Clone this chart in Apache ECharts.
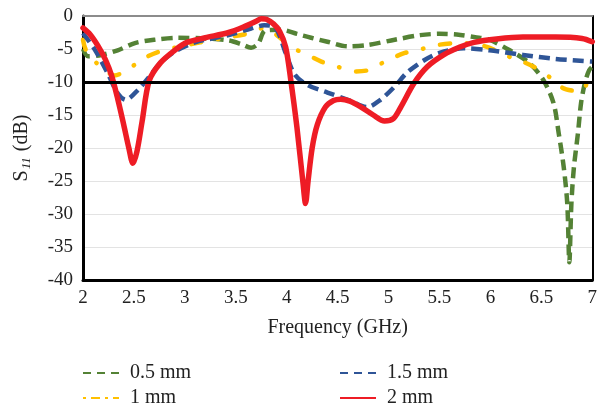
<!DOCTYPE html>
<html>
<head>
<meta charset="utf-8">
<script src="https://cdn.jsdelivr.net/npm/echarts@6/dist/echarts.min.js"></script>
<style>
  html, body { margin: 0; padding: 0; background: #fff; }
  #chart { width: 600px; height: 411px; }
</style>
</head>
<body>
<div id="chart"></div>
<script>
// Reflection coefficient S11 (dB) versus frequency (GHz) for four thicknesses.
const seriesNames = ['0.5 mm', '1 mm', '1.5 mm', '2 mm'];

const freq05 = [2.0, 2.05, 2.18, 2.34, 2.51, 2.7, 2.93, 3.2, 3.43, 3.56, 3.65, 3.72, 3.79, 3.95, 4.1, 4.24, 4.4, 4.6, 4.79, 5.06, 5.31, 5.5, 5.67, 5.85, 5.99, 6.19, 6.38, 6.52, 6.62, 6.67, 6.72, 6.755, 6.775, 6.795, 6.82, 6.86, 6.89, 6.93, 6.97, 7.0];
const s11_05 = [-5.0, -6.1, -5.9, -5.2, -4.1, -3.6, -3.3, -3.4, -3.7, -4.3, -4.8, -4.2, -2.2, -2.1, -2.7, -3.3, -3.9, -4.6, -4.4, -3.6, -2.9, -2.7, -2.8, -3.2, -3.6, -5.2, -7.1, -9.7, -13.2, -17.7, -22.9, -28.5, -37.3, -28.5, -22.9, -17.7, -13.2, -10.0, -8.2, -7.7];

const freq10 = [2.0, 2.03, 2.15, 2.24, 2.31, 2.42, 2.6, 2.75, 2.93, 3.15, 3.43, 3.58, 3.72, 3.78, 3.86, 3.95, 4.04, 4.18, 4.34, 4.5, 4.68, 4.8, 4.99, 5.16, 5.28, 5.48, 5.7, 5.95, 6.19, 6.3, 6.45, 6.62, 6.71, 6.8, 6.89, 6.95, 7.0];
const s11_10 = [-3.6, -5.2, -7.4, -8.5, -9.0, -8.3, -6.4, -5.4, -4.7, -4.0, -3.2, -2.8, -2.0, -1.8, -2.4, -3.5, -4.7, -5.7, -6.9, -7.7, -8.4, -8.2, -6.7, -5.6, -5.2, -4.4, -4.1, -4.6, -6.2, -6.8, -7.9, -9.7, -10.9, -11.3, -11.4, -10.2, -8.8];

const freq15 = [2.0, 2.12, 2.24, 2.34, 2.42, 2.54, 2.65, 2.76, 2.9, 3.1, 3.43, 3.65, 3.78, 3.89, 3.99, 4.08, 4.21, 4.4, 4.6, 4.79, 4.92, 5.06, 5.18, 5.35, 5.5, 5.74, 5.99, 6.32, 6.64, 7.0];
const s11_15 = [-2.6, -5.2, -8.6, -11.7, -12.7, -11.2, -9.2, -7.1, -5.4, -4.0, -2.9, -1.9, -1.4, -1.8, -5.6, -8.9, -10.5, -11.6, -12.7, -13.8, -12.7, -10.7, -8.6, -6.7, -5.6, -4.9, -5.2, -5.9, -6.5, -6.9];

const freq20 = [2.0, 2.07, 2.15, 2.22, 2.28, 2.34, 2.4, 2.45, 2.49, 2.53, 2.58, 2.65, 2.76, 2.9, 3.02, 3.2, 3.43, 3.6, 3.7, 3.75, 3.8, 3.87, 3.93, 3.99, 4.04, 4.1, 4.16, 4.185, 4.21, 4.25, 4.3, 4.38, 4.46, 4.53, 4.62, 4.73, 4.85, 4.96, 5.05, 5.12, 5.25, 5.38, 5.54, 5.7, 5.84, 6.06, 6.32, 6.64, 6.9, 7.0];
const s11_20 = [-1.8, -2.8, -4.6, -6.6, -9.0, -12.5, -16.5, -20.0, -22.3, -20.5, -16.0, -9.8, -7.1, -5.2, -4.0, -3.3, -2.5, -1.5, -0.8, -0.4, -0.5, -1.2, -2.3, -4.7, -9.7, -16.8, -25.3, -28.4, -25.0, -20.0, -16.5, -13.8, -12.8, -12.6, -12.9, -13.8, -15.0, -15.9, -15.5, -13.8, -10.2, -7.7, -5.9, -4.7, -4.0, -3.5, -3.2, -3.2, -3.4, -3.9];

// -10 dB matching threshold
const threshold = -10;

const FONT = '"Liberation Serif", "DejaVu Serif", serif';
const TEXT = '#222';

// Thin legend keys (36 x 2) showing each line's dash pattern
const KEY_DASH = 'path://M0,0h8v2h-8z M14,0h8v2h-8z M28,0h8v2h-8z';
const KEY_DASHDOT = 'path://M0,0h3v2h-3z M8,0h9v2h-9z M22,0h3v2h-3z M30,0h6v2h-6z';
const KEY_SOLID = 'path://M0,0h36v2h-36z';

function pairs(xs, ys) {
  return xs.map((x, i) => [x, ys[i]]);
}

function curve(name, xs, ys, color, width, dash, cap) {
  return {
    name: name,
    type: 'line',
    data: pairs(xs, ys),
    smooth: 0.3,
    symbol: 'none',
    lineStyle: { color: color, width: width, type: dash, cap: cap || 'butt', join: 'round' },
    itemStyle: { color: color },
    emphasis: { disabled: true },
    animation: false
  };
}

function legendBlock(left, items) {
  return {
    data: items,
    orient: 'vertical',
    left: left, top: 363,
    padding: 0,
    itemWidth: 36, itemHeight: 2, itemGap: 5,
    selectedMode: false,
    textStyle: { fontFamily: FONT, fontSize: 20, color: TEXT, padding: [0, 0, 0, 6] }
  };
}

const chart = echarts.init(document.getElementById('chart'), null, { renderer: 'canvas' });

chart.setOption({
  backgroundColor: '#fff',
  animation: false,
  grid: { left: 83, right: 3, top: 16, bottom: 131, containLabel: false },
  legend: [
    legendBlock(83, [
      { name: seriesNames[0], icon: KEY_DASH },
      { name: seriesNames[1], icon: KEY_DASHDOT }
    ]),
    legendBlock(340, [
      { name: seriesNames[2], icon: KEY_DASH },
      { name: seriesNames[3], icon: KEY_SOLID }
    ])
  ],
  xAxis: [
    {
      type: 'value', min: 2, max: 7, interval: 0.5,
      name: 'Frequency (GHz)', nameLocation: 'middle', nameGap: 38,
      nameTextStyle: { fontFamily: FONT, fontSize: 20, color: TEXT },
      axisLine: { show: true, onZero: false, lineStyle: { color: '#000', width: 3 } },
      axisTick: { show: false },
      axisLabel: { margin: 9, fontFamily: FONT, fontSize: 19, color: TEXT },
      splitLine: { show: false }
    },
    {
      type: 'value', min: 2, max: 7, position: 'top',
      axisLine: { show: true, onZero: false, lineStyle: { color: '#8c8c8c', width: 2 } },
      axisTick: { show: false }, axisLabel: { show: false }, splitLine: { show: false }
    }
  ],
  yAxis: [
    {
      type: 'value', min: -40, max: 0, interval: 5,
      name: '{s|S}{sub|11}{s| (dB)}', nameLocation: 'middle', nameGap: 50,
      nameTextStyle: {
        fontFamily: FONT, fontSize: 20, color: TEXT,
        rich: {
          s: { fontFamily: FONT, fontSize: 20, color: TEXT },
          sub: { fontFamily: FONT, fontSize: 13, fontStyle: 'italic', color: TEXT, padding: [9, 1, 0, 1] }
        }
      },
      axisLine: { show: true, onZero: false, lineStyle: { color: '#000', width: 3 } },
      axisTick: { show: false },
      axisLabel: { margin: 10, fontFamily: FONT, fontSize: 19, color: TEXT },
      splitLine: { show: true, lineStyle: { color: '#e3e3e3', width: 1 } }
    },
    {
      type: 'value', min: -40, max: 0, position: 'right',
      axisLine: { show: true, onZero: false, lineStyle: { color: '#000', width: 2 } },
      axisTick: { show: false }, axisLabel: { show: false }, splitLine: { show: false }
    }
  ],
  series: [
    {
      name: 'threshold',
      type: 'line',
      data: [],
      z: 1,
      silent: true,
      markLine: {
        silent: true, symbol: 'none', animation: false,
        label: { show: false },
        lineStyle: { color: '#000', width: 3, type: 'solid' },
        data: [{ yAxis: threshold }]
      }
    },
    curve(seriesNames[0], freq05, s11_05, '#548235', 4.5, [11, 6]),
    curve(seriesNames[1], freq10, s11_10, '#FFC000', 4.5, [10, 17, 0.5, 17], 'round'),
    curve(seriesNames[2], freq15, s11_15, '#2F5597', 4.5, [11, 6]),
    curve(seriesNames[3], freq20, s11_20, '#EE1C25', 5.5, 'solid', 'round')
  ]
});
</script>
</body>
</html>
